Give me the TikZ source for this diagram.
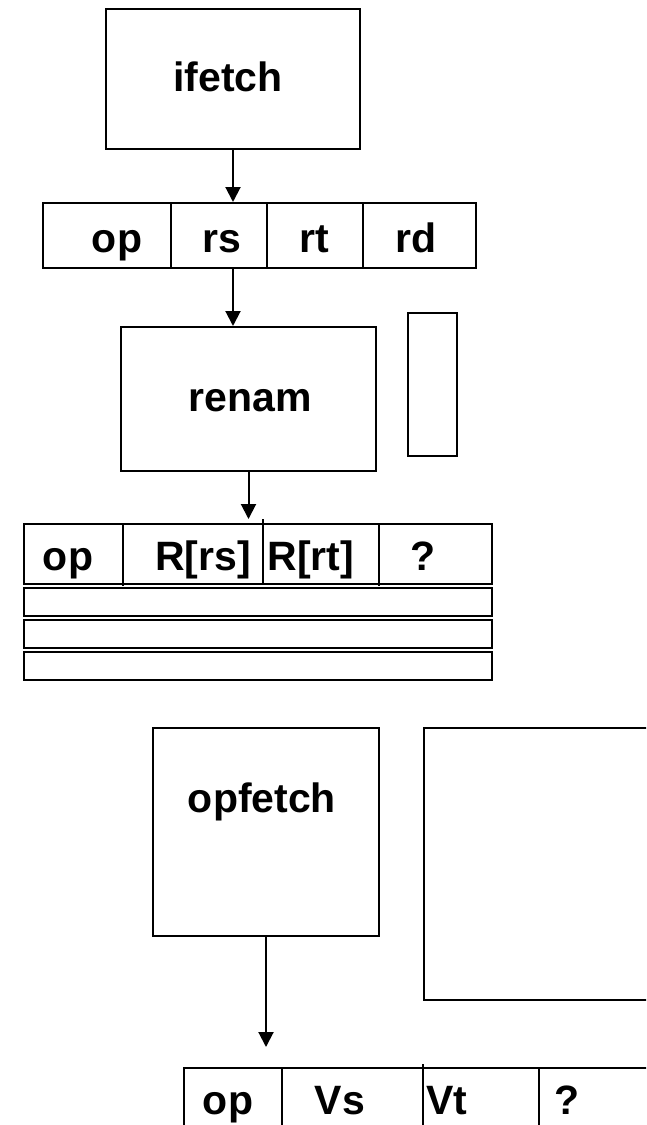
\documentclass[tikz,border=0pt]{standalone}
\usepackage{fontspec}
\setmainfont{Liberation Sans}
\usetikzlibrary{arrows.meta}
\begin{document}
\begin{tikzpicture}[x=1pt,y=-1pt,
  box/.style={draw,line width=2pt,inner sep=0pt,anchor=north west},
  lbl/.style={inner sep=0pt,anchor=base,font=\fontsize{41}{49}\selectfont\bfseries},
  arr/.style={line width=2pt,-{Triangle[width=15pt,length=15pt]}},
  divider/.style={line width=2pt}]
\useasboundingbox (0,0) rectangle (646,1125);
\clip (0,0) rectangle (646,1125);

% instruction fetch stage
\node[box,minimum width=254pt,minimum height=140pt] (ifetch) at (105,8) {};
\node[lbl] (tifetch) at (228,91) {ifetch};

% fetched instruction word
\node[box,minimum width=433pt,minimum height=65pt] (instr) at (42,202) {};
\draw[divider] (171,202) -- (171,267);
\draw[divider] (267,202) -- (267,267);
\draw[divider] (363,202) -- (363,267);
\node[lbl] (iop) at (117,252) {op};
\node[lbl] (irs) at (222,252) {rs};
\node[lbl] (irt) at (314,252) {rt};
\node[lbl] (ird) at (416,252) {rd};

% rename stage and its map table
\node[box,minimum width=255pt,minimum height=144pt] (renam) at (120,326) {};
\node[lbl] (trenam) at (250,411) {renam};
\node[box,minimum width=49pt,minimum height=143pt] (maptab) at (407,312) {};

% renamed instruction queue
\node[box,minimum width=468pt,minimum height=60pt] (rtab) at (23,523) {};
\draw[divider] (123,523) -- (123,586);
\draw[divider] (263,519) -- (263,583);
\draw[divider] (379,523) -- (379,586);
\node[lbl] (rop) at (68,570) {op};
\node[lbl] (rrs) at (203,570) {R[rs]};
\node[lbl] (rrt) at (311,570) {R[rt]};
\node[lbl] (rq) at (423,570) {?};
\node[box,minimum width=468pt,minimum height=28pt] (rrow2) at (23,587) {};
\node[box,minimum width=468pt,minimum height=28pt] (rrow3) at (23,619) {};
\node[box,minimum width=468pt,minimum height=28pt] (rrow4) at (23,651) {};

% operand fetch stage and register file
\node[box,minimum width=226pt,minimum height=208pt] (opfetch) at (152,727) {};
\node[lbl] (topfetch) at (262,812) {opfetch};
\node[box,minimum width=237pt,minimum height=272pt] (regfile) at (423,727) {};

% instruction with operand values
\node[box,minimum width=477pt,minimum height=73pt] (btab) at (183,1067) {};
\draw[divider] (282,1067) -- (282,1140);
\draw[divider] (423,1064) -- (423,1140);
\draw[divider] (539,1067) -- (539,1140);
\node[lbl] (bop) at (228,1114) {op};
\node[lbl] (bvs) at (340,1114) {Vs};
\node[lbl,anchor=base west] (bvt) at (426,1114) {Vt};
\node[lbl] (bq) at (567,1114) {?};

% data flow
\draw[arr] (ifetch.south) -- (ifetch.south |- instr.north);
\draw[arr] (instr.south -| ifetch.south) -- (renam.north -| ifetch.south);
\draw[arr,shorten >=4pt] (renam.south) -- (renam.south |- rtab.north);
\draw[arr,shorten >=20pt] (opfetch.south) -- (opfetch.south |- btab.north);
\end{tikzpicture}
\end{document}
